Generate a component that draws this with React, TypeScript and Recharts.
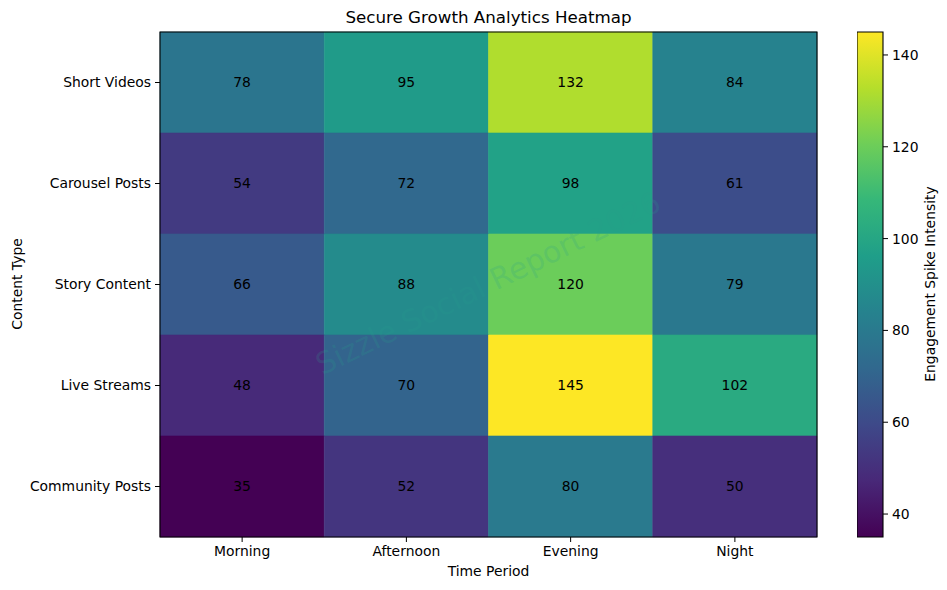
import React from 'react';
import { ComposedChart, XAxis, YAxis, ReferenceArea, Scatter } from 'recharts';

const timePeriods = ['Morning', 'Afternoon', 'Evening', 'Night'];
const contentTypes = ['Short Videos', 'Carousel Posts', 'Story Content', 'Live Streams', 'Community Posts'];
const shortVideos = [78, 95, 132, 84];
const carouselPosts = [54, 72, 98, 61];
const storyContent = [66, 88, 120, 79];
const liveStreams = [48, 70, 145, 102];
const communityPosts = [35, 52, 80, 50];
const colorbarTicks = [40, 60, 80, 100, 120, 140];
const valueMin = 35;
const valueMax = 145;

const rows = [shortVideos, carouselPosts, storyContent, liveStreams, communityPosts];

const viridis = ['#440154', '#482878', '#3e4989', '#31688e', '#26828e', '#1f9e89', '#35b779', '#6ece58', '#b5de2b', '#fde725'];

function hexToRgb(h: string) {
  return [parseInt(h.slice(1, 3), 16), parseInt(h.slice(3, 5), 16), parseInt(h.slice(5, 7), 16)];
}
function colorFor(v: number) {
  const t = Math.max(0, Math.min(1, (v - valueMin) / (valueMax - valueMin)));
  const pos = t * (viridis.length - 1);
  const i = Math.min(viridis.length - 2, Math.floor(pos));
  const f = pos - i;
  const a = hexToRgb(viridis[i]);
  const b = hexToRgb(viridis[i + 1]);
  const c = a.map((x, k) => Math.round(x + (b[k] - x) * f));
  return `rgb(${c[0]},${c[1]},${c[2]})`;
}

const cells = rows.flatMap((vals, r) => vals.map((v, c) => ({ row: r, col: c, value: v })));

const FONT = 'DejaVu Sans, sans-serif';
const tickStyle = { fill: '#000', fontSize: 13.9, fontFamily: FONT };

export default function App() {
  return (
    <div style={{ position: 'absolute', left: 0, top: 0, width: 947, height: 590, background: '#fff', fontFamily: FONT }}>
      <div style={{ position: 'absolute', left: 160, width: 657, top: 7, textAlign: 'center', fontSize: 16.7, color: '#000' }}>
        Secure Growth Analytics Heatmap
      </div>
      <ComposedChart width={947} height={590} margin={{ top: 32, right: 130, bottom: 0, left: 0 }} data={cells}>
        <XAxis
          dataKey="col"
          type="number"
          domain={[-0.5, 3.5]}
          ticks={[0, 1, 2, 3]}
          tickFormatter={(i: number) => timePeriods[i]}
          height={53}
          tickSize={5}
          tickMargin={4}
          axisLine={false}
          tick={tickStyle}
          tickLine={{ stroke: '#000' }}
          allowDataOverflow
          interval={0}
        />
        <YAxis
          dataKey="row"
          type="number"
          reversed
          domain={[-0.5, 4.5]}
          ticks={[0, 1, 2, 3, 4]}
          tickFormatter={(i: number) => contentTypes[i]}
          width={160}
          tickSize={5}
          tickMargin={4}
          axisLine={false}
          tick={tickStyle}
          tickLine={{ stroke: '#000' }}
          allowDataOverflow
          interval={0}
        />
        {cells.map((d) => (
          <ReferenceArea
            key={`${d.row}-${d.col}`}
            x1={d.col - 0.5}
            x2={d.col + 0.5}
            y1={d.row - 0.5}
            y2={d.row + 0.5}
            fill={colorFor(d.value)}
            fillOpacity={1}
            stroke={colorFor(d.value)}
            strokeWidth={0.6}
            label={{ value: String(d.value), position: 'center', fill: '#000', fontSize: 13.9, fontFamily: FONT }}
          />
        ))}
        <ReferenceArea x1={-0.5} x2={3.5} y1={-0.5} y2={4.5} fill="none" fillOpacity={0} stroke="#000" strokeWidth={1.1} />
        <Scatter dataKey="row" fill="none" isAnimationActive={false} shape={() => <g />} />
      </ComposedChart>
      <div
        style={{
          position: 'absolute',
          left: 488,
          top: 283,
          transform: 'translate(-50%, -50%) rotate(-26deg)',
          whiteSpace: 'nowrap',
          fontSize: 30,
          color: 'rgba(40, 160, 140, 0.2)',
          pointerEvents: 'none',
        }}
      >
        Sizzle Social Report 2026
      </div>
      <div style={{ position: 'absolute', left: 160, width: 657, top: 563, textAlign: 'center', fontSize: 13.9, color: '#000' }}>
        Time Period
      </div>
      <div
        style={{
          position: 'absolute',
          left: 17,
          top: 284,
          transform: 'translate(-50%, -50%) rotate(-90deg)',
          whiteSpace: 'nowrap',
          fontSize: 13.9,
          color: '#000',
        }}
      >
        Content Type
      </div>
      <div style={{ position: 'absolute', left: 857, top: 0 }}>
        <ComposedChart width={90} height={590} margin={{ top: 32, right: 0, bottom: 53, left: 0 }} data={cells}>
          <defs>
            <linearGradient id="cbGrad" x1="0" y1="1" x2="0" y2="0">
              {viridis.map((c, i) => (
                <stop key={c} offset={`${(i / (viridis.length - 1)) * 100}%`} stopColor={c} />
              ))}
            </linearGradient>
          </defs>
          <XAxis type="number" dataKey="col" domain={[0, 1]} hide height={0} allowDataOverflow />
          <YAxis
            type="number"
            dataKey="value"
            orientation="right"
            domain={[valueMin, valueMax]}
            ticks={colorbarTicks}
            width={64}
            tickSize={5}
            tickMargin={4}
            axisLine={false}
            tick={{ ...tickStyle, textAnchor: 'start' }}
            tickLine={{ stroke: '#000' }}
            allowDataOverflow
            interval={0}
          />
          <ReferenceArea x1={0} x2={1} y1={valueMin} y2={valueMax} fill="url(#cbGrad)" fillOpacity={1} stroke="#000" strokeWidth={1.1} />
          <Scatter dataKey="value" fill="none" isAnimationActive={false} shape={() => <g />} />
        </ComposedChart>
      </div>
      <div
        style={{
          position: 'absolute',
          left: 930,
          top: 284,
          transform: 'translate(-50%, -50%) rotate(-90deg)',
          whiteSpace: 'nowrap',
          fontSize: 13.9,
          color: '#000',
        }}
      >
        Engagement Spike Intensity
      </div>
    </div>
  );
}
